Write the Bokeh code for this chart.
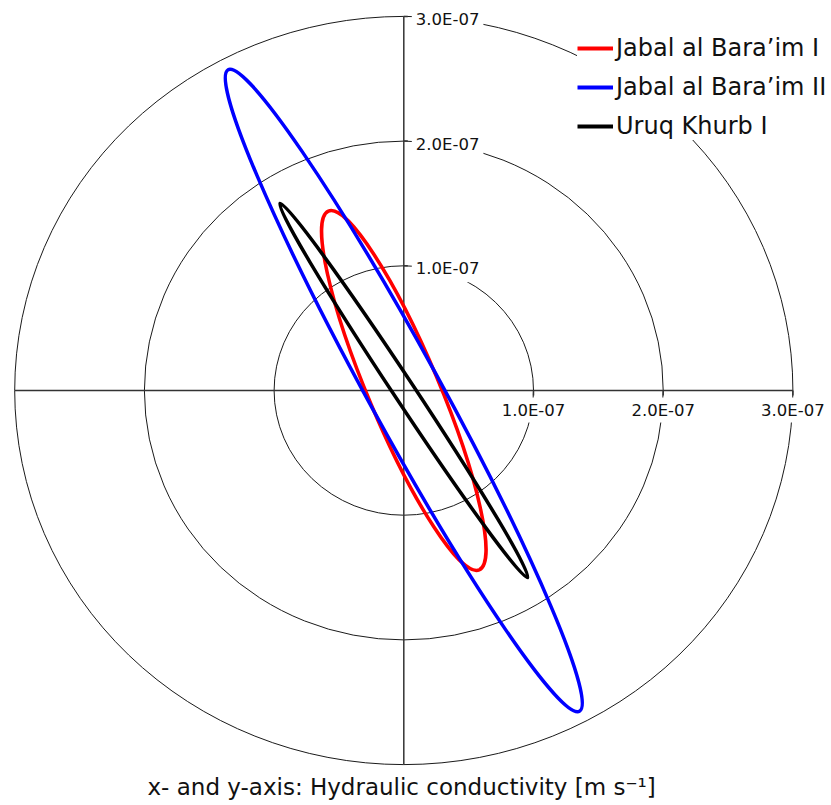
import numpy as np
from bokeh.plotting import figure
from bokeh.models import Range1d, Legend, LegendItem, Title
from bokeh.core.properties import value
from bokeh.embed import file_html
from bokeh.resources import INLINE

# Reference rings / axis ticks (m s^-1)
ring_radii = [1.0e-7, 2.0e-7, 3.0e-7]
tick_labels = ["1.0E-07", "2.0E-07", "3.0E-07"]

# Hydraulic conductivity ellipses per site
sites = ["Jabal al Bara’im I", "Jabal al Bara’im II", "Uruq Khurb I"]
semi_major = [1.50e-7, 2.82e-7, 1.73e-7]      # m s^-1
semi_minor = [0.285e-7, 0.29e-7, 0.084e-7]    # m s^-1
orientation_deg = [112.8, 118.7, 123.5]       # counter-clockwise from +x
colors = ["#ff0000", "#0000ff", "#000000"]

FONT = "DejaVu Sans"

p = figure(
    frame_width=831, frame_height=770,
    x_range=Range1d(-3.1095e-7, 3.2976e-7),
    y_range=Range1d(-3.0473e-7, 3.1275e-7),
    x_axis_location=None, y_axis_location=None,
    toolbar_location=None, output_backend="svg",
    min_border=0, outline_line_color=None,
    background_fill_color="white", border_fill_color="white",
)
p.grid.visible = False

rmax = ring_radii[-1]
n = len(ring_radii)

# concentric rings
p.ellipse(x=[0] * n, y=[0] * n,
          width=[2 * r for r in ring_radii], height=[2 * r for r in ring_radii],
          fill_color=None, line_color="#1a1a1a", line_width=1)

# cross-hair axes
p.segment(x0=[-rmax, 0], y0=[0, -rmax], x1=[rmax, 0], y1=[0, rmax],
          line_color="#333333", line_width=1.5)

# tick marks
p.ray(x=ring_radii, y=[0] * n, length=5, length_units="screen",
      angle=-np.pi / 2, line_color="#333333", line_width=1.5)
p.ray(x=[0] * n, y=ring_radii, length=4, length_units="screen",
      angle=0, line_color="#333333", line_width=1.5)

# tick labels (white boxes mask the rings behind them)
p.text(x=ring_radii, y=[0] * n, text=tick_labels,
       text_align="center", text_baseline="top", y_offset=7,
       text_font=value(FONT), text_font_size="16.5px", text_color="#111111",
       background_fill_color="white", padding=3)
p.text(x=[0] * n, y=ring_radii, text=tick_labels,
       text_align="left", text_baseline="middle", x_offset=8, y_offset=3,
       text_font=value(FONT), text_font_size="16.5px", text_color="#111111",
       background_fill_color="white", padding=4)

# conductivity ellipses
p.ellipse(x=[0] * 3, y=[0] * 3,
          width=[2 * a for a in semi_major], height=[2 * b for b in semi_minor],
          angle=orientation_deg, angle_units="deg",
          fill_color=None, line_color=colors, line_width=3.5)

# legend entries drawn as line samples
items = []
for name, c in zip(sites, colors):
    r = p.line(x=[np.nan, np.nan], y=[np.nan, np.nan], line_color=c, line_width=4)
    items.append(LegendItem(label=name, renderers=[r]))

legend = Legend(
    items=items, location=(577, 630), padding=12, spacing=11, margin=0,
    glyph_width=36, glyph_height=24, label_height=24, label_standoff=3,
    label_text_font=FONT, label_text_font_size="24px", label_text_color="#111111",
    background_fill_color="white", background_fill_alpha=1.0,
    border_line_color=None,
)
p.add_layout(legend)

caption = Title(text="x- and y-axis: Hydraulic conductivity [m s⁻¹]",
                align="left", offset=147, standoff=2,
                text_font=FONT, text_font_size="23px",
                text_font_style="normal", text_color="#111111")
p.add_layout(caption, "below")

open("out.html", "w").write(file_html(p, INLINE))
